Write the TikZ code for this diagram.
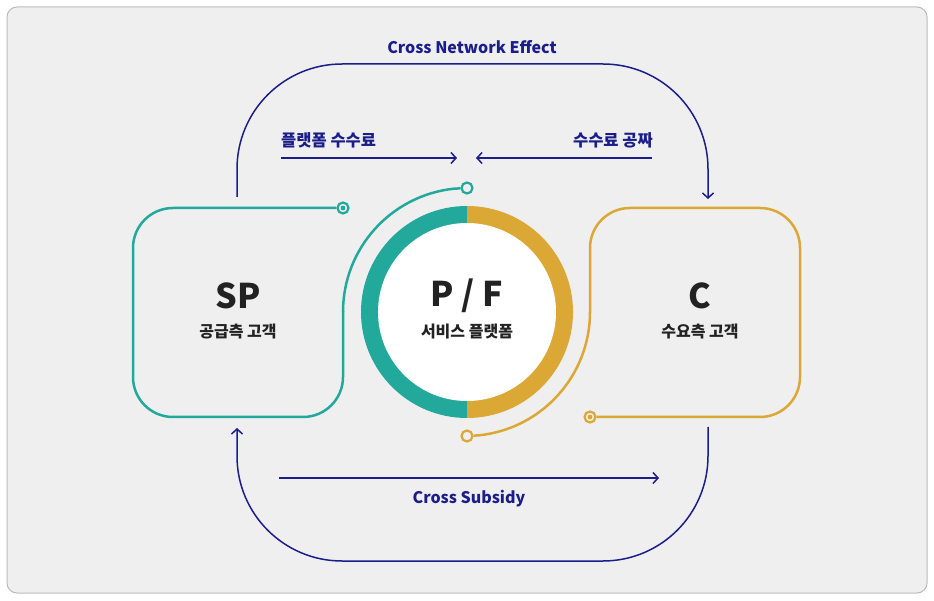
\documentclass[tikz,border=0pt]{standalone}
\usepackage{fontspec}
\setmainfont{Noto Sans CJK KR}
\usetikzlibrary{arrows.meta}
\definecolor{spteal}{HTML}{22A99B}
\definecolor{cgold}{HTML}{DBA835}
\definecolor{navy}{HTML}{1B1E8A}
\definecolor{bggrey}{HTML}{EFEFEF}
\definecolor{framegrey}{HTML}{BBBBBB}
\definecolor{ink}{HTML}{222222}

\begin{document}
\begin{tikzpicture}[x=1pt, y=1pt,
	side/.style={line width=2.5pt, rounded corners=40pt},
	ring/.style={circle, draw, line width=2.2pt, fill=bggrey, minimum size=11pt, inner sep=0pt},
	flow/.style={draw=navy, line width=1.5pt, -{Straight Barb[length=5pt, width=11pt]}},
	bigtitle/.style={font=\fontsize{34}{36}\selectfont\bfseries, text=ink},
	subtitle/.style={font=\fontsize{16}{18}\selectfont\bfseries, text=ink},
	flowlabel/.style={font=\fontsize{16}{18}\selectfont\bfseries, text=navy},
	feelabel/.style={font=\fontsize{16.5}{18}\selectfont\bfseries, text=navy, inner sep=0pt}]
	\useasboundingbox (0,0) rectangle (934,600);
	\draw [fill=bggrey, draw=framegrey, line width=1pt, rounded corners=10pt] (7,7) rectangle (927,593);
	
	\coordinate (pfc) at (467,288);
	\coordinate (netL) at (237,403);
	\coordinate (netR) at (708,401);
	\coordinate (subR) at (708,173);
	\coordinate (subL) at (237,172);
	\coordinate (feeA) at (281,442);
	\coordinate (feeB) at (457,442);
	\coordinate (freeA) at (652,442);
	\coordinate (freeB) at (476,442);
	\coordinate (csA) at (279,122);
	\coordinate (csB) at (659,122);
	
	\fill [spteal] (467,394) arc[start angle=90, end angle=270, radius=106pt] -- cycle;
	\fill [cgold] (467,394) arc[start angle=90, end angle=-90, radius=106pt] -- cycle;
	\node at (pfc) [circle, fill=white, minimum size=178pt, inner sep=0pt] (pf) {};
	\node at (467,304) [bigtitle] (pfname) {P / F};
	\node at (467,268) [subtitle] (pfsub) {서비스 플랫폼};
	
	\node at (343,392) [ring, draw=spteal] (spdot) {};
	\fill [spteal] (spdot) circle (2.4pt);
	\node at (467,412) [ring, draw=spteal] (spend) {};
	\draw [spteal, side] (spdot) -- (133,392) -- (133,183) -- (343,183) -- (343,288.5);
	\draw [spteal, line width=2.5pt] (343,288) arc[start angle=180, end angle=96, radius=124pt] -- (spend);
	\node at (238,304) [bigtitle] (sp) {SP};
	\node at (238,268) [subtitle] (spsub) {공급측 고객};
	
	\node at (590,183) [ring, draw=cgold] (cdot) {};
	\fill [cgold] (cdot) circle (2.4pt);
	\node at (467,164) [ring, draw=cgold] (cend) {};
	\draw [cgold, side] (590,287.5) -- (590,392) -- (800,392) -- (800,183) -- (cdot);
	\draw [cgold, line width=2.5pt] (590,288) arc[start angle=0, end angle=-84, radius=124pt] -- (cend);
	\node at (700,304) [bigtitle] (c) {C};
	\node at (700,268) [subtitle] (csub) {수요측 고객};
	
	\draw [flow, rounded corners=105pt] (netL) -- (237,536) -- (708,536) -- (netR);
	\draw [flow, rounded corners=105pt] (subR) -- (708,39) -- (237,39) -- (subL);
	\draw [flow] (feeA) -- (feeB);
	\draw [flow] (freeA) -- (freeB);
	\draw [flow] (csA) -- (csB);
	
	\node at (472,553) [flowlabel] (net) {Cross Network Effect};
	\node at (469,101) [flowlabel] (cs) {Cross Subsidy};
	\node at (281,460) [feelabel, anchor=west] (fee) {플랫폼 수수료};
	\node at (653,460) [feelabel, anchor=east] (free) {수수료 공짜};
\end{tikzpicture}
\end{document}
